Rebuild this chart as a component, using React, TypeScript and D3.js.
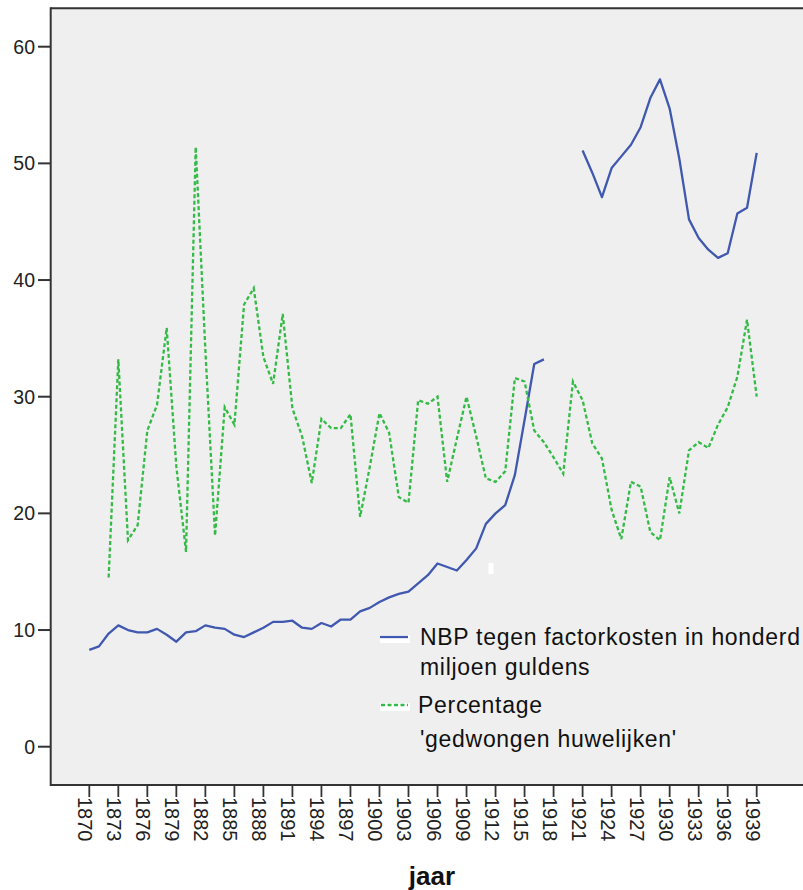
import React from "react";
import * as d3 from "d3";

// categories: every year 1870-1939, labels every third year
const years: number[] = d3.range(1870, 1940);
const tickYears: number[] = [1870, 1873, 1876, 1879, 1882, 1885, 1888, 1891, 1894, 1897, 1900, 1903, 1906, 1909, 1912, 1915, 1918, 1921, 1924, 1927, 1930, 1933, 1936, 1939];
const yTicks: number[] = [0, 10, 20, 30, 40, 50, 60];

// NBP tegen factorkosten (honderd miljoen guldens), 1870-1939
const nbp: (number | null)[] = [
  8.3, 8.6, 9.7, 10.4, 10.0, 9.8, 9.8, 10.1, 9.6, 9.0,
  9.8, 9.9, 10.4, 10.2, 10.1, 9.6, 9.4, 9.8, 10.2, 10.7,
  10.7, 10.8, 10.2, 10.1, 10.6, 10.3, 10.9, 10.9, 11.6, 11.9,
  12.4, 12.8, 13.1, 13.3, 14.0, 14.7, 15.7, 15.4, 15.1, 16.0,
  17.0, 19.1, 20.0, 20.7, 23.3, 28.0, 32.8, 33.2, null, null,
  null, 51.1, 49.2, 47.1, 49.6, 50.6, 51.6, 53.1, 55.6, 57.2,
  54.7, 50.4, 45.2, 43.6, 42.6, 41.9, 42.3, 45.7, 46.2, 50.9,
];

// Percentage 'gedwongen huwelijken', 1870-1939
const forced: (number | null)[] = [
  null, null, 14.5, 33.2, 17.7, 19.0, 27.1, 29.3, 35.9, 24.0,
  16.7, 51.4, 34.0, 18.1, 29.1, 27.6, 37.9, 39.3, 33.4, 31.1,
  37.1, 29.0, 26.6, 22.6, 28.1, 27.3, 27.3, 28.5, 19.7, 24.0,
  28.6, 26.9, 21.4, 20.9, 29.7, 29.4, 30.0, 22.7, 26.4, 30.0,
  26.6, 23.0, 22.7, 23.6, 31.6, 31.3, 27.1, 26.1, 24.8, 23.4,
  31.3, 29.7, 26.0, 24.7, 20.3, 17.8, 22.7, 22.3, 18.4, 17.7,
  23.1, 20.0, 25.4, 26.1, 25.6, 27.6, 29.1, 31.7, 36.6, 30.0,
];

const W = 803;
const H = 890;
const plot = { left: 50.7, top: 8.3, right: 815, bottom: 785 };
const BLUE = "#4058b0";
const GREEN = "#33bb46";
const FONT = "'Liberation Sans', Arial, sans-serif";

const App: React.FC = () => {
  const x = d3.scalePoint<number>().domain(years).range([89.3, 756.7]);
  const y = d3.scaleLinear().domain([0, 60]).range([746.7, 46.7]);

  const line = d3
    .line<number | null>()
    .defined((d) => d != null)
    .x((_, i) => x(years[i]) as number)
    .y((d) => y(d as number));

  return (
    <svg
      width={W}
      height={H}
      style={{ position: "absolute", left: 0, top: 0, display: "block", background: "#fff" }}
      fontFamily={FONT}
    >
      <rect x={plot.left} y={plot.top} width={plot.right - plot.left} height={plot.bottom - plot.top} fill="#efefef" />
      {/* small white artifact */}
      <rect x={488.5} y={563} width={5} height={11} fill="#fff" />

      <path d={line(nbp) ?? ""} fill="none" stroke={BLUE} strokeWidth={2.3} strokeLinejoin="round" />
      <path d={line(forced) ?? ""} fill="none" stroke={GREEN} strokeWidth={2.3} strokeDasharray="4,2.5" />

      {/* frame */}
      <line x1={plot.left} x2={W} y1={plot.top} y2={plot.top} stroke="#333" strokeWidth={2} />
      <line x1={plot.left} x2={plot.left} y1={plot.top - 1} y2={plot.bottom + 1} stroke="#333" strokeWidth={2} />
      <line x1={plot.left} x2={W} y1={plot.bottom} y2={plot.bottom} stroke="#333" strokeWidth={2} />

      {/* y axis */}
      {yTicks.map((t) => (
        <g key={t} transform={`translate(0,${y(t)})`}>
          <line x1={38} x2={plot.left} stroke="#333" strokeWidth={2} />
          <text x={35} dy="0.36em" textAnchor="end" fontSize={19.5} fill="#222">
            {t}
          </text>
        </g>
      ))}

      {/* x axis */}
      {tickYears.map((t) => (
        <g key={t} transform={`translate(${x(t)},0)`}>
          <line y1={plot.bottom} y2={plot.bottom + 12} stroke="#333" strokeWidth={1.8} />
          <text
            transform={`translate(0,${plot.bottom + 12}) rotate(90)`}
            y={11}
            fontSize={20}
            fill="#222"
          >
            {t}
          </text>
        </g>
      ))}
      <text x={432} y={885} textAnchor="middle" fontSize={26} fontWeight="bold" fill="#111">
        jaar
      </text>

      {/* legend */}
      <rect x={380} y={635} width={30} height={8} fill="#fff" />
      <line x1={380} x2={408} y1={637} y2={637} stroke={BLUE} strokeWidth={2.3} />
      <text x={420} y={645} fontSize={23} letterSpacing={0.7} fill="#111">
        NBP tegen factorkosten in honderd
      </text>
      <text x={420} y={675} fontSize={23} letterSpacing={0.7} fill="#111">
        miljoen guldens
      </text>
      <rect x={380} y={703} width={30} height={8} fill="#fff" />
      <line x1={381} x2={408} y1={705} y2={705} stroke={GREEN} strokeWidth={2.3} strokeDasharray="4,2.5" />
      <text x={418} y={713} fontSize={23} letterSpacing={0.7} fill="#111">
        Percentage
      </text>
      <text x={420} y={747} fontSize={23} letterSpacing={0.7} fill="#111">
        'gedwongen huwelijken'
      </text>
    </svg>
  );
};

export default App;
